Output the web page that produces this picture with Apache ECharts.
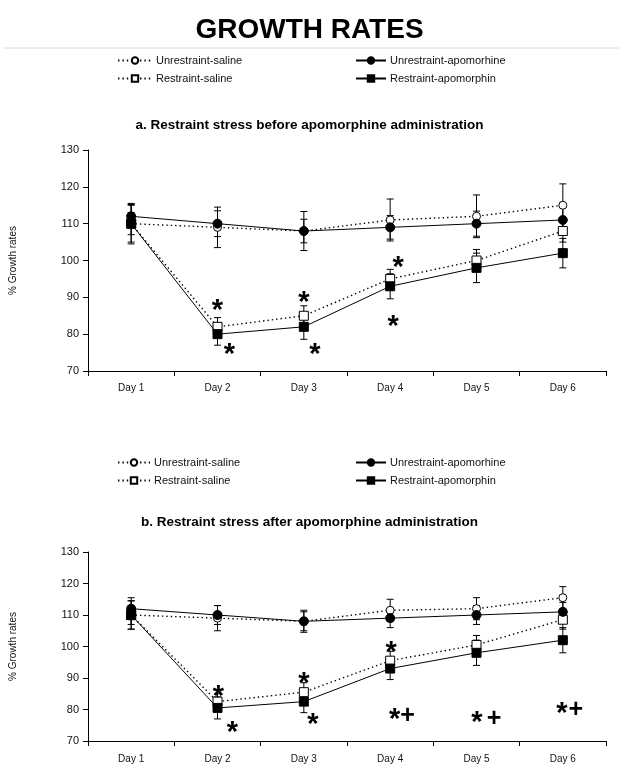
<!DOCTYPE html>
<html>
<head>
<meta charset="utf-8">
<script src="https://cdn.jsdelivr.net/npm/echarts@6/dist/echarts.min.js"></script>
<style>
html,body{margin:0;padding:0;background:#fff;}
#chart{width:619px;height:765px;}
</style>
</head>
<body>
<div id="chart"></div>
<script>
// ---------- DATA ----------
const days = ['Day 1', 'Day 2', 'Day 3', 'Day 4', 'Day 5', 'Day 6'];
const yTicks = [70, 80, 90, 100, 110, 120, 130];
const seriesNames = ['Unrestraint-saline', 'Unrestraint-apomorhine', 'Restraint-saline', 'Restraint-apomorphin'];

// Panel a
const aUnrSal = [110, 109, 108, 111, 112, 115];
const aUnrApo = [112, 110, 108, 109, 110, 111];
const aResSal = [110, 82, 85, 95, 100, 108];
const aResApo = [110, 80, 82, 93, 98, 102];
const aUnrSalErr = [5.5, 5.5, 5.3, 5.7, 5.8, 5.8];
const aUnrApoErr = [3.2, 3.5, 3.2, 3.2, 3.4, 3.5];
const aResSalErr = [3, 2.5, 2.7, 2.6, 3, 3];
const aResApoErr = [5, 3, 3.4, 3.4, 4, 4];
const aMarks = [['Day 2', 88, '*'], ['Day 2', 76, '*'], ['Day 3', 90, '*'], ['Day 3', 76, '*'], ['Day 4', 99.5, '*'], ['Day 4', 83.5, '*']];

// Panel b
const bUnrSal = [110, 109, 108, 111.5, 112, 115.5];
const bUnrApo = [112, 110, 108, 109, 110, 111];
const bResSal = [110, 82.5, 85.5, 95.5, 100.5, 108.5];
const bResApo = [110, 80.5, 82.5, 93, 98, 102];
const bUnrSalErr = [4.5, 4, 3.5, 3.5, 3.5, 3.5];
const bUnrApoErr = [3.5, 3, 3, 3, 3, 3];
const bResSalErr = [3, 2.5, 3, 3, 3, 3];
const bResApoErr = [4.5, 3.5, 3.5, 3.5, 4, 4];
const bMarks = [['Day 2', 86, '*'], ['Day 2', 74.6, '*'], ['Day 3', 90, '*'], ['Day 3', 77, '*'], ['Day 4', 100, '*'], ['Day 4', 78.5, '*+'], ['Day 5', 77.5, '*+'], ['Day 6', 80.5, '*+']];

// ---------- STYLE ----------
const FONT = '"Liberation Sans", Arial, sans-serif';
const aMarkDx = [0, 12, 0, 11, 8, 3];
const bMarkDx = [1, 15, 0, 9, 1, 11, 9, 6];
const plusGap = [0, 0, 0, 0, 0, 13, 17, 14];

const styleOf = {
  'Unrestraint-saline': {symbol: 'circle', size: 8, fill: '#fff', dotted: true},
  'Unrestraint-apomorhine': {symbol: 'circle', size: 9, fill: '#000', dotted: false},
  'Restraint-saline': {symbol: 'rect', size: 9, fill: '#fff', dotted: true},
  'Restraint-apomorphin': {symbol: 'rect', size: 9, fill: '#000', dotted: false}
};

function lineSeries(name, values, gi) {
  const s = styleOf[name];
  return {
    type: 'line', name: name, xAxisIndex: gi, yAxisIndex: gi,
    data: values, symbol: s.symbol, symbolSize: s.size, showSymbol: true,
    z: s.dotted ? 3 : 4,
    itemStyle: {color: s.fill, borderColor: '#000', borderWidth: 1, opacity: 1},
    lineStyle: {color: '#000', width: s.dotted ? 1.4 : 1, type: s.dotted ? [1.4, 3] : 'solid'},
    emphasis: {disabled: true},
    animation: false
  };
}

function errData(vals, errs) {
  return vals.map((v, i) => [i, v - errs[i], v + errs[i]]);
}

function errSeries(gi, pairs) {
  let data = [];
  pairs.forEach(p => { data = data.concat(errData(p[0], p[1])); });
  return {
    type: 'custom', xAxisIndex: gi, yAxisIndex: gi, z: 2, silent: true, animation: false,
    data: data,
    renderItem: function (params, api) {
      const x = api.value(0);
      const lo = api.coord([x, api.value(1)]);
      const hi = api.coord([x, api.value(2)]);
      const hw = 3.5;
      const st = {stroke: '#000', lineWidth: 1};
      return {type: 'group', children: [
        {type: 'line', shape: {x1: lo[0], y1: lo[1], x2: hi[0], y2: hi[1]}, style: st},
        {type: 'line', shape: {x1: lo[0] - hw, y1: lo[1], x2: lo[0] + hw, y2: lo[1]}, style: st},
        {type: 'line', shape: {x1: hi[0] - hw, y1: hi[1], x2: hi[0] + hw, y2: hi[1]}, style: st}
      ]};
    }
  };
}

function markSeries(gi, marks, dx, gaps) {
  return {
    type: 'custom', xAxisIndex: gi, yAxisIndex: gi, z: 6, silent: true, animation: false,
    data: marks.map(m => [days.indexOf(m[0]), m[1]]),
    renderItem: function (params, api) {
      const i = params.dataIndex;
      const p = api.coord([api.value(0), api.value(1)]);
      const txt = marks[i][2];
      const children = [];
      const gap = gaps ? gaps[i] : 0;
      let x = p[0] + dx[i] - (txt.length > 1 ? gap / 2 : 0);
      for (let k = 0; k < txt.length; k++) {
        const c = txt[k];
        if (c === '*') {
          children.push({type: 'text', x: x, y: p[1] + 6,
            style: {text: '*', fontSize: 29, fontWeight: 'bold', fontFamily: FONT, fill: '#000', align: 'center', verticalAlign: 'middle'}});
        } else {
          children.push({type: 'text', x: x, y: p[1] + 2,
            style: {text: '+', fontSize: 25, fontWeight: 'bold', fontFamily: FONT, fill: '#000', align: 'center', verticalAlign: 'middle'}});
        }
        x += gap;
      }
      return {type: 'group', children: children};
    }
  };
}

function makeX(gi, margin) {
  return {
    type: 'category', gridIndex: gi, data: days, boundaryGap: true,
    axisLine: {show: true, lineStyle: {color: '#000', width: 1}},
    axisTick: {show: true, length: 5, inside: false, alignWithLabel: false, lineStyle: {color: '#000'}},
    axisLabel: {fontSize: 10, color: '#111', margin: margin, fontFamily: FONT},
    splitLine: {show: false}
  };
}

function makeY(gi) {
  return {
    type: 'value', gridIndex: gi, min: yTicks[0], max: yTicks[yTicks.length - 1], interval: 10,
    name: '% Growth rates', nameLocation: 'middle', nameRotate: 90, nameGap: 70,
    nameTextStyle: {fontSize: 10, color: '#111', fontFamily: FONT},
    axisLine: {show: true, lineStyle: {color: '#000', width: 1}},
    axisTick: {show: true, length: 5, inside: false, lineStyle: {color: '#000'}},
    axisLabel: {fontSize: 11, color: '#111', margin: 9, fontFamily: FONT},
    splitLine: {show: false}
  };
}

function makeLegend(names, left, top, w) {
  return {
    orient: 'vertical', left: left, top: top, padding: 0,
    itemWidth: w, itemHeight: 8, itemGap: 7,
    data: names, selectedMode: false,
    textStyle: {fontSize: 11, lineHeight: 11, color: '#111', fontFamily: FONT, padding: [0, 0, 0, -1]}
  };
}

const chart = echarts.init(document.getElementById('chart'), null, {renderer: 'canvas'});

const option = {
  backgroundColor: '#fff',
  animation: false,
  textStyle: {fontFamily: FONT},
  title: [
    {text: 'GROWTH RATES', left: 'center', top: 11,
     textStyle: {fontSize: 28, fontWeight: 'bold', color: '#000', fontFamily: FONT}},
    {text: 'a. Restraint stress before apomorphine administration', left: 'center', top: 113,
     textStyle: {fontSize: 13.5, fontWeight: 'bold', color: '#000', fontFamily: FONT}},
    {text: 'b. Restraint stress after apomorphine administration', left: 'center', top: 510,
     textStyle: {fontSize: 13.5, fontWeight: 'bold', color: '#000', fontFamily: FONT}}
  ],
  graphic: [
    {type: 'line', shape: {x1: 3, y1: 48, x2: 619, y2: 48}, style: {stroke: '#dcdcdc', lineWidth: 1}}
  ],
  legend: [
    makeLegend(['Unrestraint-saline', 'Restraint-saline'], 117, 55, 34),
    makeLegend(['Unrestraint-apomorhine', 'Restraint-apomorphin'], 355, 55, 30),
    makeLegend(['Unrestraint-saline', 'Restraint-saline'], 117, 457, 32),
    makeLegend(['Unrestraint-apomorhine', 'Restraint-apomorphin'], 355, 457, 30)
  ],
  grid: [
    {left: 87, right: 13, top: 150, height: 221, containLabel: false},
    {left: 87, right: 13, top: 552, height: 189, containLabel: false}
  ],
  xAxis: [makeX(0, 12), makeX(1, 13)],
  yAxis: [makeY(0), makeY(1)],
  series: [
    errSeries(0, [[aUnrSal, aUnrSalErr], [aUnrApo, aUnrApoErr], [aResSal, aResSalErr], [aResApo, aResApoErr]]),
    lineSeries('Unrestraint-saline', aUnrSal, 0),
    lineSeries('Restraint-saline', aResSal, 0),
    lineSeries('Unrestraint-apomorhine', aUnrApo, 0),
    lineSeries('Restraint-apomorphin', aResApo, 0),
    markSeries(0, aMarks, aMarkDx, null),
    errSeries(1, [[bUnrSal, bUnrSalErr], [bUnrApo, bUnrApoErr], [bResSal, bResSalErr], [bResApo, bResApoErr]]),
    lineSeries('Unrestraint-saline', bUnrSal, 1),
    lineSeries('Restraint-saline', bResSal, 1),
    lineSeries('Unrestraint-apomorhine', bUnrApo, 1),
    lineSeries('Restraint-apomorphin', bResApo, 1),
    markSeries(1, bMarks, bMarkDx, plusGap)
  ]
};
chart.setOption(option);
</script>
</body>
</html>
